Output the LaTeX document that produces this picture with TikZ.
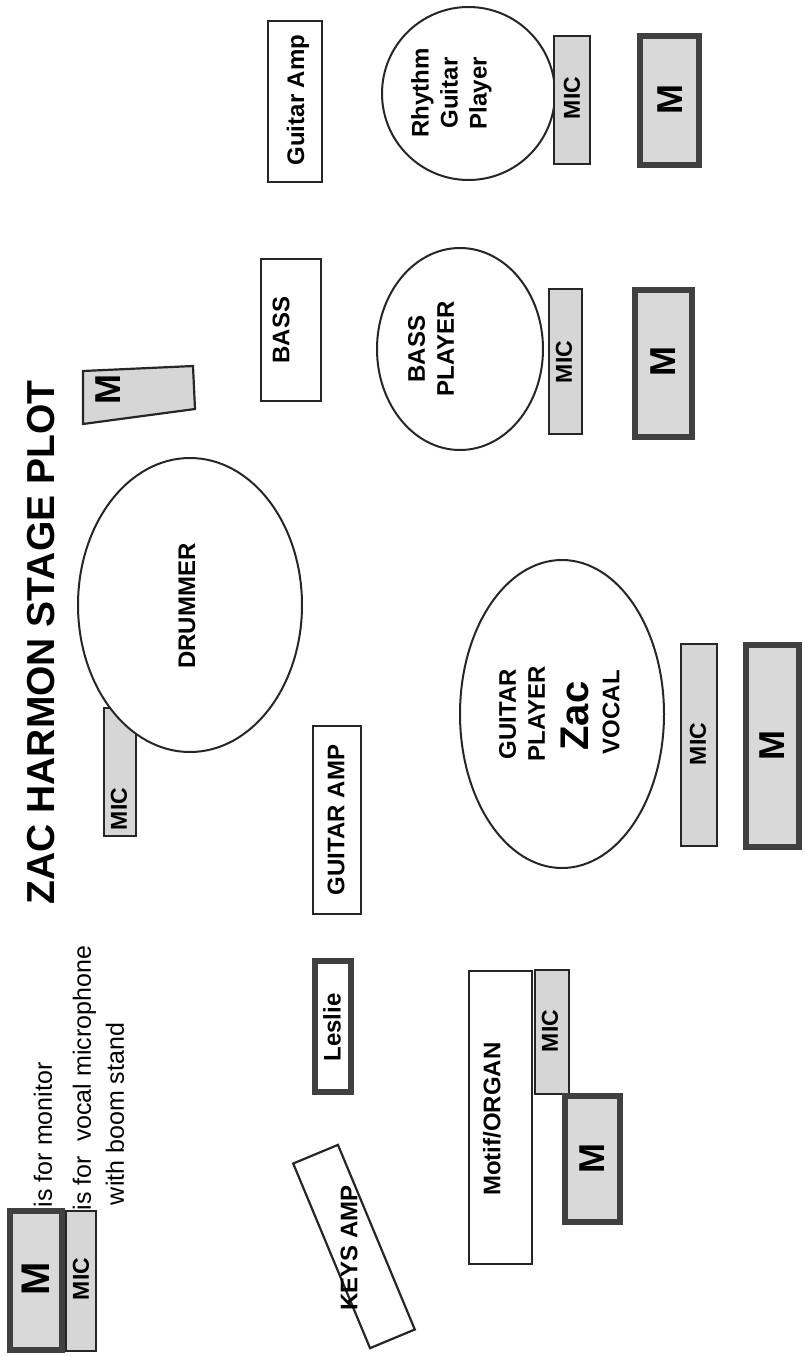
\documentclass[tikz,border=0pt]{standalone}
\usepackage{fontspec}
\setmainfont{Liberation Sans}
\usetikzlibrary{shapes.geometric}
\begin{document}
\begin{tikzpicture}[x=1pt,y=-1pt,
  every node/.style={inner sep=0pt, outer sep=0pt},
  thinbox/.style={draw=black!85, line width=2.2pt, rectangle},
  micbox/.style={thinbox, fill=black!16},
  monbox/.style={draw=black!75, line width=6pt, fill=black!15, rectangle},
  lesliebox/.style={draw=black!75, line width=6pt, fill=white, rectangle},
  whitebox/.style={thinbox, fill=white},
  person/.style={ellipse, draw=black!85, line width=2pt, fill=white},
  lbl/.style={rotate=90, font=\fontsize{24}{29}\selectfont\bfseries, align=center},
  miclbl/.style={rotate=90, font=\fontsize{23}{27}\selectfont\bfseries},
  mlbl/.style={rotate=90, font=\fontsize{36}{40}\selectfont\bfseries},
  legendtxt/.style={rotate=90, font=\fontsize{25}{30}\selectfont, anchor=west},
]
\useasboundingbox (0,0) rectangle (804,1357);

% ---------- title ----------
\node[rotate=90, font=\fontsize{39}{44}\selectfont\bfseries] (title) at (41,642.5) {ZAC HARMON STAGE PLOT};

% ---------- legend ----------
\node[micbox, minimum width=30pt, minimum height=140pt] (legmic) at (81,1281) {};
\node[monbox, minimum width=52pt, minimum height=139pt] (legm) at (36,1280.5) {};
\node[mlbl, font=\fontsize{40}{44}\selectfont\bfseries] (legmT) at (36,1279) {M};
\node[miclbl] (legmicT) at (81,1279) {MIC};
\node[legendtxt] (leg1) at (43,1207) {is for monitor};
\node[legendtxt] (leg2) at (84.5,1210) {is for~ vocal microphone};
\node[legendtxt] (leg3) at (115,1205) {with boom stand};

% ---------- drummer ----------
\node[micbox, minimum width=32pt, minimum height=128pt] (drmic) at (120,772) {};
\node[person, minimum width=224pt, minimum height=294pt] (drum) at (190,605) {};
\node[lbl] (drumT) at (187,606) {DRUMMER};
\node[miclbl] (drmicT) at (119,809) {MIC};
\draw[thinbox, fill=black!16] (83,371) -- (193,366) -- (195,409) -- (83,424) -- cycle;
\node[mlbl] (drmT) at (108,390) {M};

% ---------- left side amps ----------
\node[whitebox, minimum width=48pt, minimum height=188pt] (gamp) at (337,820) {};
\node[lbl] (gampT) at (336,820) {GUITAR AMP};
\node[lesliebox, minimum width=36pt, minimum height=131pt] (leslie) at (333,1026.5) {};
\node[lbl] (leslieT) at (332,1027.5) {Leslie};
\node[thinbox, fill=white, rotate=112.6, minimum width=200pt, minimum height=48.5pt] (keys) at (354,1246.5) {};
\node[lbl] (keysT) at (349,1248) {KEYS AMP};

% ---------- organ ----------
\node[whitebox, minimum width=63pt, minimum height=293pt] (organ) at (500.5,1117.5) {};
\node[lbl] (organT) at (492,1119) {Motif/ORGAN};
\node[micbox, minimum width=34pt, minimum height=124pt] (orgmic) at (552,1032) {};
\node[miclbl] (orgmicT) at (550,1031) {MIC};
\node[monbox, minimum width=55pt, minimum height=126pt] (orgm) at (592.5,1159) {};
\node[mlbl] (orgmT) at (592,1158) {M};

% ---------- Zac ----------
\node[person, minimum width=204pt, minimum height=308pt] (zac) at (562,714) {};
\node[lbl] (zacT1) at (522,714) {GUITAR\\PLAYER};
\node[rotate=90, font=\fontsize{40}{44}\selectfont\bfseries] (zacT2) at (575,716) {Zac};
\node[lbl] (zacT3) at (611,712) {VOCAL};
\node[micbox, minimum width=36pt, minimum height=202pt] (zacmic) at (699,745) {};
\node[miclbl] (zacmicT) at (698,744) {MIC};
\node[monbox, minimum width=53pt, minimum height=202pt] (zacm) at (772.5,746) {};
\node[mlbl] (zacmT) at (772,745) {M};

% ---------- bass ----------
\node[whitebox, minimum width=60pt, minimum height=142pt] (bass) at (291,330) {};
\node[lbl] (bassT) at (281,330) {BASS};
\node[person, minimum width=166pt, minimum height=202pt] (bp) at (460,349) {};
\node[lbl] (bpT) at (431,349) {BASS\\PLAYER};
\node[micbox, minimum width=33pt, minimum height=145pt] (bpmic) at (565.5,361.5) {};
\node[miclbl] (bpmicT) at (564,362) {MIC};
\node[monbox, minimum width=57pt, minimum height=147pt] (bpm) at (663.5,363.5) {};
\node[mlbl] (bpmT) at (663,362) {M};

% ---------- rhythm guitar ----------
\node[whitebox, minimum width=54pt, minimum height=161pt] (ramp) at (295,101.5) {};
\node[lbl] (rampT) at (298,100) {Guitar Amp};
\node[person, minimum width=173pt, minimum height=173pt] (rp) at (468.5,93.5) {};
\node[lbl] (rpT) at (451.5,93) {Rhythm\\Guitar\\Player};
\node[micbox, minimum width=36pt, minimum height=128pt] (rpmic) at (572,100) {};
\node[miclbl] (rpmicT) at (572,98) {MIC};
\node[monbox, minimum width=59pt, minimum height=129pt] (rpm) at (669.5,100.5) {};
\node[mlbl] (rpmT) at (670,100) {M};
\end{tikzpicture}
\end{document}
